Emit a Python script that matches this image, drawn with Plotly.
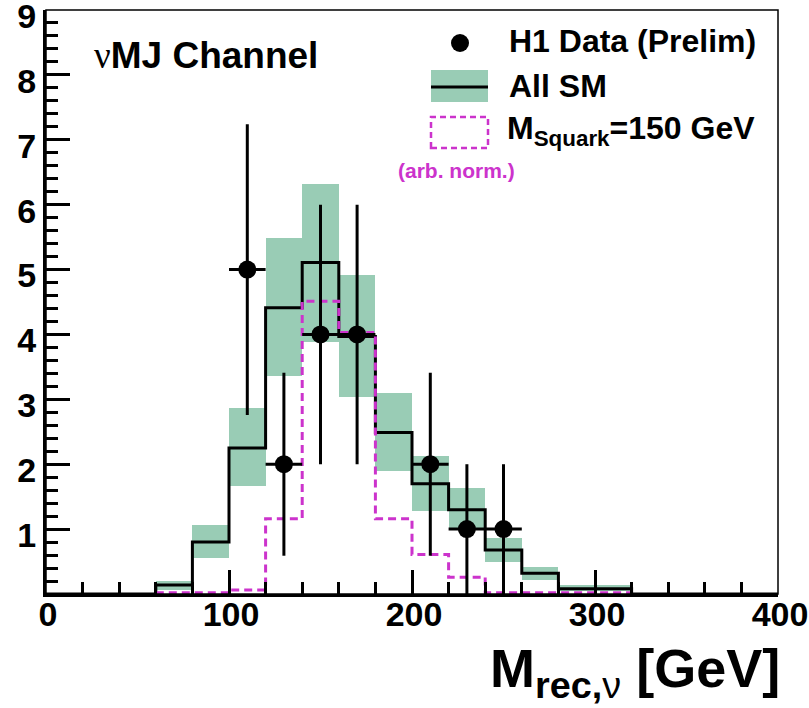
import plotly.graph_objects as go

# Reconstructed-mass histogram, 20 GeV bins from 0 to 400 GeV
bin_edges = list(range(0, 401, 20))
bin_centers = [e + 10 for e in bin_edges[:-1]]

# Standard-model expectation (central value) per bin
sm_total = [0, 0, 0, 0.14, 0.80, 2.25, 4.41, 5.11, 3.97, 2.49,
            1.70, 1.30, 0.68, 0.32, 0.08, 0.08, 0, 0, 0, 0]
# Uncertainty band of the SM expectation (lower / upper edge) per bin
sm_low = [0, 0, 0, 0.06, 0.55, 1.66, 3.36, 3.89, 3.03, 1.90,
          1.28, 1.00, 0.49, 0.21, 0.05, 0.05, 0, 0, 0, 0]
sm_high = [0, 0, 0, 0.20, 1.07, 2.86, 5.48, 6.32, 4.92, 3.09,
           2.12, 1.64, 0.87, 0.42, 0.14, 0.14, 0, 0, 0, 0]
# Squark signal, M = 150 GeV, arbitrary normalisation
squark_150 = [0, 0, 0, 0.02, 0.02, 0.06, 1.16, 4.51, 4.03, 1.16,
              0.61, 0.26, 0.02, 0.02, 0.02, 0.02, 0, 0, 0, 0]

# Observed events (non-empty bins only)
data_x = [110, 130, 150, 170, 210, 230, 250]
data_y = [5, 2, 4, 4, 2, 1, 1]
data_err = [2.24, 1.41, 2.0, 2.0, 1.41, 1.0, 1.0]
data_xerr = [10] * len(data_x)

x_ticks = [0, 100, 200, 300, 400]
y_ticks = [0, 1, 2, 3, 4, 5, 6, 7, 8, 9]
y_ticktext = [""] + [str(v) for v in y_ticks[1:]]

GREEN = "#99ccb5"
MAGENTA = "#cc33cc"
FONT = "Liberation Sans"

W, H = 809, 708
ML, MR, MT, MB = 46, 31, 10, 114
PW, PH = W - ML - MR, H - MT - MB


def px(x):
    return (x - ML) / PW


def py(y):
    return (H - MB - y) / PH


fig = go.Figure()

band_base = [lo for lo, hi in zip(sm_low, sm_high) if hi > 0]
band_size = [hi - lo for lo, hi in zip(sm_low, sm_high) if hi > 0]
band_x = [c for c, hi in zip(bin_centers, sm_high) if hi > 0]
fig.add_trace(go.Bar(
    x=band_x, y=band_size, base=band_base, width=20,
    marker=dict(color=GREEN, line=dict(width=0)), showlegend=False,
))

# step outlines: repeat the last bin content at the upper edge
fig.add_trace(go.Scatter(
    x=bin_edges, y=sm_total + [sm_total[-1]], mode="lines",
    line=dict(color="black", width=3, shape="hv"), showlegend=False,
))
fig.add_trace(go.Scatter(
    x=bin_edges[3:17], y=squark_150[3:16] + [squark_150[15]], mode="lines",
    line=dict(color=MAGENTA, width=3, shape="hv", dash="8px,5px"),
    showlegend=False,
))
fig.add_trace(go.Scatter(
    x=data_x, y=data_y, mode="markers",
    marker=dict(color="black", size=18),
    error_x=dict(type="data", array=data_xerr, width=0, thickness=3, color="black"),
    error_y=dict(type="data", array=data_err, width=0, thickness=3, color="black"),
    showlegend=False,
))

tickfont = dict(family=FONT, size=34, color="black", weight="bold")
fig.update_layout(
    width=W, height=H,
    margin=dict(l=ML, r=MR, t=MT, b=MB, autoexpand=False),
    paper_bgcolor="white", plot_bgcolor="white",
    barmode="overlay", bargap=0,
    xaxis=dict(
        range=[0, 400], tickmode="array", tickvals=x_ticks,
        ticks="inside", ticklen=24, tickwidth=2.5, tickcolor="black",
        minor=dict(tickmode="linear", tick0=0, dtick=20, ticks="inside",
                   ticklen=12, tickwidth=2.5, tickcolor="black"),
        showline=True, linewidth=3, linecolor="black",
        showgrid=False, zeroline=False, tickfont=tickfont,
        automargin=False, ticklabeloverflow="allow",
        ticklabelstandoff=-12, ticklabelshift=2,
    ),
    yaxis=dict(
        range=[0, 9], tickmode="array", tickvals=y_ticks, ticktext=y_ticktext,
        ticks="inside", ticklen=24, tickwidth=2.5, tickcolor="black",
        minor=dict(tickmode="linear", tick0=0, dtick=0.2, ticks="inside",
                   ticklen=12, tickwidth=2.5, tickcolor="black"),
        showline=True, linewidth=3, linecolor="black",
        showgrid=False, zeroline=False, tickfont=tickfont,
        automargin=False, ticklabeloverflow="allow",
        ticklabelshift=6,
    ),
)

# thin frame on top and right
fig.add_shape(type="rect", xref="paper", yref="paper", x0=0, x1=1, y0=0, y1=1,
              line=dict(color="black", width=1.5), layer="above")

# legend symbols
fig.add_shape(type="circle", xref="paper", yref="paper",
              x0=px(451), x1=px(469), y0=py(52), y1=py(34),
              fillcolor="black", line=dict(width=0))
fig.add_shape(type="rect", xref="paper", yref="paper",
              x0=px(431), x1=px(488), y0=py(102), y1=py(70),
              fillcolor=GREEN, line=dict(width=0))
fig.add_shape(type="line", xref="paper", yref="paper",
              x0=px(431), x1=px(488), y0=py(87), y1=py(87),
              line=dict(color="black", width=3))
fig.add_shape(type="rect", xref="paper", yref="paper",
              x0=px(431), x1=px(488), y0=py(148), y1=py(117),
              line=dict(color=MAGENTA, width=2.5, dash="6px,4px"))


def label(text, x, y, size, color="black", anchor="left"):
    fig.add_annotation(text=text, xref="paper", yref="paper",
                       x=px(x), y=py(y), xanchor=anchor, yanchor="middle",
                       showarrow=False,
                       font=dict(family=FONT, size=size, color=color, weight="bold"))


label("H1 Data (Prelim)", 507, 41, 32)
label("All SM", 507, 86, 32)
label("M<sub>Squark</sub>=150 GeV", 505, 130, 32)
label("(arb. norm.)", 396, 170, 21, color=MAGENTA)
label("<span style=\"font-weight:normal;font-family:'Liberation Serif'\">ν</span>MJ Channel",
      92, 55, 37)
label("M<sub>rec,<span style=\"font-weight:normal\">ν</span></sub> [GeV]",
      782, 672, 54, anchor="right")

fig.write_html("out.html")
